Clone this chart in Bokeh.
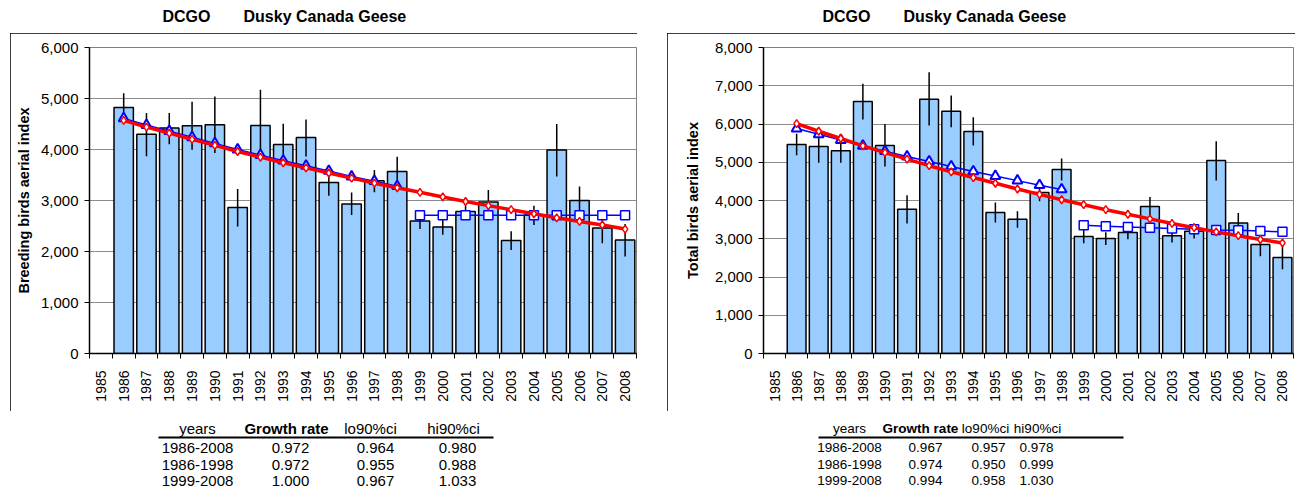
from math import pi
from bokeh.plotting import figure
from bokeh.models import Range1d, FixedTicker, NumeralTickFormatter, Spacer
from bokeh.layouts import row, column
from bokeh.core.properties import value
from bokeh.embed import file_html
from bokeh.resources import INLINE

# ---------------- data ----------------
axis_years = list(range(1985, 2009))
years = list(range(1986, 2009))
years_early = list(range(1986, 1999))
years_late = list(range(1999, 2009))

breeding_index = [4825, 4300, 4420, 4465, 4485, 2865, 4470, 4100, 4235, 3355, 2930, 3385,
                  3570, 2600, 2480, 2785, 2970, 2215, 2715, 3990, 3000, 2460, 2225]
breeding_lo = [4545, 3870, 4105, 3995, 3930, 2490, 3770, 3700, 3865, 3095, 2715, 3160,
               3290, 2440, 2330, 2670, 2735, 2030, 2520, 3470, 2730, 2160, 1900]
breeding_hi = [5105, 4715, 4715, 4935, 5040, 3225, 5170, 4505, 4590, 3615, 3155, 3600,
               3860, 2760, 2665, 2895, 3205, 2395, 2895, 4500, 3275, 2760, 2540]
breeding_trend_all = [4570, 4440, 4320, 4200, 4080, 3960, 3850, 3740, 3640, 3540, 3440, 3340,
                      3250, 3160, 3070, 2980, 2900, 2820, 2740, 2660, 2590, 2520, 2440]
breeding_trend_early = [4610, 4480, 4360, 4240, 4120, 4000, 3890, 3780, 3680, 3580, 3470,
                        3380, 3280]
breeding_trend_late = [2710, 2710, 2710, 2710, 2710, 2710, 2710, 2710, 2710, 2710]

total_index = [5465, 5413, 5300, 6585, 5440, 3770, 6645, 6333, 5803, 3685, 3510, 4206,
               4813, 3059, 3007, 3163, 3841, 3076, 3198, 5048, 3414, 2851, 2512]
total_lo = [5180, 4990, 4985, 6115, 4890, 3400, 5960, 5915, 5440, 3425, 3285, 3980,
            4525, 2880, 2835, 2990, 3530, 2905, 3005, 4525, 3150, 2545, 2200]
total_hi = [5745, 5675, 5615, 7050, 6000, 4135, 7350, 6745, 6175, 3945, 3720, 4480,
            5100, 3240, 3170, 3330, 4090, 3250, 3390, 5550, 3675, 3150, 2920]
total_trend_all = [6010, 5810, 5620, 5430, 5250, 5080, 4910, 4750, 4600, 4450, 4300, 4160,
                   4020, 3890, 3760, 3640, 3520, 3400, 3290, 3180, 3080, 2980, 2890]
total_trend_early = [5880, 5730, 5580, 5430, 5290, 5150, 5020, 4890, 4760, 4640, 4520,
                     4400, 4290]
total_trend_late = [3350, 3330, 3310, 3290, 3270, 3250, 3230, 3220, 3200, 3180]

title_code = "DCGO"
title_name = "Dusky Canada Geese"
table_header = ["years", "Growth rate", "lo90%ci", "hi90%ci"]
table_periods = ["1986-2008", "1986-1998", "1999-2008"]
breeding_rate = ["0.972", "0.972", "1.000"]
breeding_lo90 = ["0.964", "0.955", "0.967"]
breeding_hi90 = ["0.980", "0.988", "1.033"]
total_rate = ["0.967", "0.974", "0.994"]
total_lo90 = ["0.957", "0.950", "0.958"]
total_hi90 = ["0.978", "0.999", "1.030"]

FONT = "Liberation Sans"
BOX_TOP = 33      # page y of chart box top
BOX_BOTTOM = 411  # page y of chart box bottom
FRAME_TOP = 47
FRAME_BOTTOM = 353
PAGE_H = 491


def blank_fig(box_left, box_right, frame_left, frame_right, y0, y1):
    """Text-only strip; its frame lines up with the chart frame, in page pixel coordinates."""
    f = figure(width=box_right - box_left, height=y1 - y0, output_backend="svg",
               toolbar_location=None,
               x_range=Range1d(frame_left, frame_right), y_range=Range1d(y1, y0),
               x_axis_location=None, y_axis_location=None,
               min_border_left=frame_left - box_left, min_border_right=box_right - frame_right,
               min_border_top=0, min_border_bottom=0)
    f.outline_line_color = None
    f.xgrid.visible = False
    f.ygrid.visible = False
    f.background_fill_color = "white"
    f.border_fill_color = "white"
    return f


def make_panel(box_left, box_right, frame_left, frame_right, ymax, ylabel, label_standoff,
               index, lo, hi, trend_all, trend_early, trend_late,
               title_x, name_x, head_x, val_x, rule_x, table_font, rates, lo90, hi90):
    width = box_right - box_left

    # ---- title (above the box)
    t = blank_fig(box_left, box_right, frame_left, frame_right, 0, BOX_TOP)
    t.text(x=[title_x, name_x], y=[16, 16], text=[title_code, title_name],
           text_font=value(FONT), text_font_style="bold", text_font_size=value("16px"),
           text_baseline="middle", text_align="left", text_color="black")

    # ---- main chart (inside the box)
    p = figure(width=width, height=BOX_BOTTOM - BOX_TOP, output_backend="svg",
               toolbar_location=None,
               x_range=Range1d(axis_years[0] - 0.5, axis_years[-1] + 0.5),
               y_range=Range1d(0, ymax),
               min_border_left=frame_left - box_left,
               min_border_right=box_right - frame_right,
               min_border_top=FRAME_TOP - BOX_TOP,
               min_border_bottom=BOX_BOTTOM - FRAME_BOTTOM,
               styles={"outline": "1.5px solid black", "outline-offset": "-1.5px"})
    p.background_fill_color = "white"
    p.border_fill_color = "white"
    p.outline_line_color = "#808080"
    p.outline_line_width = 1

    p.xgrid.grid_line_color = None
    p.ygrid.grid_line_color = "#8c8c8c"
    p.ygrid.grid_line_width = 1
    p.ygrid.ticker = FixedTicker(ticks=list(range(0, ymax + 1, 1000)))

    ya = p.yaxis[0]
    ya.ticker = FixedTicker(ticks=list(range(0, ymax + 1, 1000)))
    ya.formatter = NumeralTickFormatter(format="0,0")
    ya.axis_label = ylabel
    ya.axis_label_text_font = FONT
    ya.axis_label_text_font_style = "bold"
    ya.axis_label_text_font_size = "14.5px"
    ya.axis_label_text_color = "black"
    ya.axis_label_standoff = label_standoff
    ya.major_label_text_font = FONT
    ya.major_label_text_font_size = "15px"
    ya.major_label_text_color = "black"
    ya.axis_line_color = "black"
    ya.axis_line_width = 1.5
    ya.major_tick_line_color = "black"
    ya.major_tick_out = 5
    ya.major_tick_in = 0
    ya.minor_tick_line_color = None
    ya.major_label_standoff = 6

    xa = p.xaxis[0]
    xa.ticker = FixedTicker(ticks=axis_years,
                            minor_ticks=[y - 0.5 for y in axis_years] + [axis_years[-1] + 0.5])
    xa.formatter = NumeralTickFormatter(format="0")
    xa.major_label_orientation = pi / 2
    xa.major_label_text_font = FONT
    xa.major_label_text_font_size = "14px"
    xa.major_label_text_color = "black"
    xa.major_tick_line_color = None
    xa.major_tick_out = 0
    xa.major_tick_in = 0
    xa.minor_tick_line_color = "black"
    xa.minor_tick_out = 5
    xa.minor_tick_in = 0
    xa.axis_line_color = "black"
    xa.axis_line_width = 1.5
    xa.major_label_standoff = 12

    p.vbar(x=years, top=index, bottom=0, width=0.85, fill_color="#99ccff",
           line_color="black", line_width=1.5)
    p.segment(x0=years, y0=lo, x1=years, y1=hi, line_color="black", line_width=1.5)

    p.line(years_early, trend_early, line_color="#0000ff", line_width=1.5)
    p.scatter(years_early, trend_early, marker="triangle", size=10, fill_color="white",
              line_color="#0000ff", line_width=2)
    p.line(years_late, trend_late, line_color="#0000ff", line_width=1.5)
    p.scatter(years_late, trend_late, marker="square", size=9, fill_color="white",
              line_color="#0000ff", line_width=1.5)
    p.line(years, trend_all, line_color="#ff0000", line_width=3.5)
    p.scatter(years, trend_all, marker="diamond", size=8, fill_color="white",
              line_color="#ff0000", line_width=1.5)

    # ---- growth-rate table (below the box)
    tb = blank_fig(box_left, box_right, frame_left, frame_right, BOX_BOTTOM, PAGE_H)
    tb.text(x=head_x[:1] + head_x[2:], y=[428] * 3,
            text=table_header[:1] + table_header[2:],
            text_font=value(FONT), text_font_size=value(table_font),
            text_baseline="middle", text_align="center", text_color="black")
    tb.text(x=head_x[1:2], y=[428], text=table_header[1:2],
            text_font=value(FONT), text_font_style="bold", text_font_size=value(table_font),
            text_baseline="middle", text_align="center", text_color="black")
    tb.segment(x0=[rule_x[0]], y0=[437], x1=[rule_x[1]], y1=[437],
               line_color="black", line_width=2)
    row_y = [447, 464, 480]
    xs, ys, texts = [], [], []
    for i in range(3):
        cells = [table_periods[i], rates[i], lo90[i], hi90[i]]
        for j, c in enumerate(cells):
            xs.append(val_x[j])
            ys.append(row_y[i])
            texts.append(c)
    tb.text(x=xs, y=ys, text=texts, text_font=value(FONT), text_font_size=value(table_font),
            text_baseline="middle", text_align="center", text_color="black")

    return column(t, p, tb, spacing=0)


left = make_panel(10, 637, 89, 636, 6000, "Breeding birds aerial index", 6,
                  breeding_index, breeding_lo, breeding_hi,
                  breeding_trend_all, breeding_trend_early, breeding_trend_late,
                  162, 243,
                  [197, 286, 370, 453], [197, 290, 375, 457], [158, 493], "15px",
                  breeding_rate, breeding_lo90, breeding_hi90)
right = make_panel(667, 1295, 763, 1293, 8000, "Total birds aerial index", 11,
                   total_index, total_lo, total_hi,
                   total_trend_all, total_trend_early, total_trend_late,
                   822, 903,
                   [849, 920, 985, 1037], [849, 925, 988, 1036], [818, 1123], "13.5px",
                   total_rate, total_lo90, total_hi90)

layout = row(Spacer(width=10, height=PAGE_H), left, Spacer(width=30, height=PAGE_H), right,
             spacing=0)
open("out.html", "w").write(file_html(layout, INLINE))
